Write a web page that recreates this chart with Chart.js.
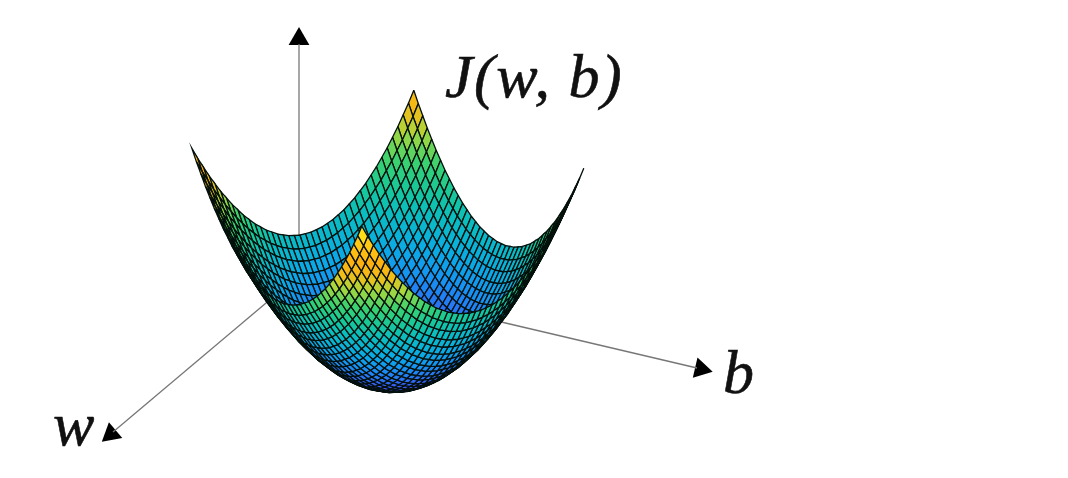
<!DOCTYPE html>
<html>
<head>
<meta charset="utf-8">
<title>J(w, b)</title>
<script src="https://cdn.jsdelivr.net/npm/chart.js@4"></script>
<style>
  html, body { margin: 0; padding: 0; background: #fff; }
  #myChart { display: block; filter: blur(0.5px); }
</style>
</head>
<body>
<canvas id="myChart" width="1068" height="478"></canvas>
<script>
// grid of the surface and the height each axis adds, read from the rims of the bowl
const bGrid = [-1, -0.95, -0.9, -0.85, -0.8, -0.75, -0.7, -0.65, -0.6, -0.55, -0.5, -0.45, -0.4, -0.35, -0.3, -0.25, -0.2, -0.15, -0.1, -0.05, 0, 0.05, 0.1, 0.15, 0.2, 0.25, 0.3, 0.35, 0.4, 0.45, 0.5, 0.55, 0.6, 0.65, 0.7, 0.75, 0.8, 0.85, 0.9, 0.95, 1];
const wGrid = [-1, -0.95, -0.9, -0.85, -0.8, -0.75, -0.7, -0.65, -0.6, -0.55, -0.5, -0.45, -0.4, -0.35, -0.3, -0.25, -0.2, -0.15, -0.1, -0.05, 0, 0.05, 0.1, 0.15, 0.2, 0.25, 0.3, 0.35, 0.4, 0.45, 0.5, 0.55, 0.6, 0.65, 0.7, 0.75, 0.8, 0.85, 0.9, 0.95, 1];
const bHeight = [1, 0.9, 0.81, 0.72, 0.64, 0.56, 0.49, 0.42, 0.36, 0.3, 0.25, 0.2, 0.16, 0.12, 0.09, 0.06, 0.04, 0.02, 0.01, 0, 0, 0, 0.01, 0.02, 0.04, 0.06, 0.09, 0.12, 0.16, 0.2, 0.25, 0.3, 0.36, 0.42, 0.49, 0.56, 0.64, 0.72, 0.81, 0.9, 1];
const wHeight = [1, 0.9, 0.81, 0.72, 0.64, 0.56, 0.49, 0.42, 0.36, 0.3, 0.25, 0.2, 0.16, 0.12, 0.09, 0.06, 0.04, 0.02, 0.01, 0, 0, 0, 0.01, 0.02, 0.04, 0.06, 0.09, 0.12, 0.16, 0.2, 0.25, 0.3, 0.36, 0.42, 0.49, 0.56, 0.64, 0.72, 0.81, 0.9, 1];

// the three drawn axes: line start and end, arrow head centre
const axisStartX = [299, 480, 285];
const axisStartY = [280, 317, 287];
const axisEndX = [299, 697, 113];
const axisEndY = [44, 368, 432];
const arrowX = [299, 701, 111];
const arrowY = [39, 369, 434];

const labelText = ["J(w, b)", "b", "w"];
const labelX = [445, 723, 53];
const labelY = [97, 393, 445];

// view of the 3d surface on the page
const view = { x0: 393, y0: 387, bx: 85, by: 39, wx: -111, wy: 29, jx: -2.6, jy: -114.4 };
const arrowAngle = [0, 103, 230];

// colour stops, [value, r, g, b]
const colourStops = [
  [0, 60, 40, 205], [0.12, 65, 60, 230], [0.3, 50, 100, 245], [0.5, 25, 140, 245],
  [0.7, 10, 170, 230], [0.95, 10, 190, 190], [1.12, 25, 200, 150], [1.3, 60, 210, 110],
  [1.5, 170, 215, 60], [1.65, 240, 190, 25], [1.8, 255, 175, 15], [2.0, 255, 200, 20],
  [2.2, 255, 242, 30],
];

function colourFor(c) {
  for (let i = 1; i < colourStops.length; i++) {
    const a = colourStops[i - 1];
    const s = colourStops[i];
    if (c <= s[0]) {
      const t = Math.max(0, (c - a[0]) / (s[0] - a[0]));
      return "rgb(" + [1, 2, 3].map((k) => Math.round(a[k] + (s[k] - a[k]) * t)).join(",") + ")";
    }
  }
  const last = colourStops[colourStops.length - 1];
  return "rgb(" + last[1] + "," + last[2] + "," + last[3] + ")";
}

function project(i, j) {
  const J = bHeight[i] + wHeight[j];
  return {
    x: view.x0 + view.bx * bGrid[i] + view.wx * wGrid[j] + view.jx * J,
    y: view.y0 + view.by * bGrid[i] + view.wy * wGrid[j] + view.jy * J,
  };
}

// back corner first, so the front wall ends up over the far wall
const cells = [];
for (let i = 0; i < bGrid.length - 1; i++) {
  for (let j = 0; j < wGrid.length - 1; j++) {
    const p = project(i, j);
    const c = (bHeight[i] + bHeight[i + 1] + wHeight[j] + wHeight[j + 1]) / 2
      + 0.1 * (bGrid[i] + wGrid[j] + 0.05 * 2);
    cells.push({
      data: [p, project(i + 1, j), project(i + 1, j + 1), project(i, j + 1), p],
      backgroundColor: colourFor(c),
      borderColor: "#04100c",
      borderWidth: 1.3,
      fill: "shape",
      showLine: true,
      pointRadius: 0,
      tension: 0,
    });
  }
}

const axes = [];
for (let i = 0; i < axisStartX.length; i++) {
  axes.push({
    data: [{ x: axisStartX[i], y: axisStartY[i] }, { x: axisEndX[i], y: axisEndY[i] }],
    borderColor: "#777",
    borderWidth: 1.3,
    showLine: true,
    pointRadius: 0,
  });
  axes.push({
    data: [{ x: arrowX[i], y: arrowY[i] }],
    pointStyle: "triangle",
    pointRadius: 12,
    pointRotation: arrowAngle[i],
    backgroundColor: "#000",
    borderColor: "#000",
    borderWidth: 0,
  });
}

const labelPlugin = {
  id: "labels",
  afterDraw(chart) {
    const ctx = chart.ctx;
    ctx.save();
    ctx.fillStyle = "#111";
    ctx.strokeStyle = "#111";
    ctx.lineWidth = 0.6;
    ctx.font = "italic 62px 'Liberation Serif'";
    ctx.letterSpacing = "1.5px";
    ctx.textBaseline = "alphabetic";
    for (let i = 0; i < labelText.length; i++) {
      const x = chart.scales.x.getPixelForValue(labelX[i]);
      const y = chart.scales.y.getPixelForValue(labelY[i]);
      ctx.fillText(labelText[i], x, y);
      ctx.strokeText(labelText[i], x, y);
    }
    ctx.restore();
  },
};

new Chart(document.getElementById("myChart"), {
  type: "scatter",
  data: { datasets: cells.reverse().concat(axes) },
  options: {
    responsive: false,
    animation: false,
    events: [],
    layout: { padding: 0, autoPadding: false },
    plugins: { legend: { display: false }, tooltip: { enabled: false }, title: { display: false } },
    scales: {
      x: { type: "linear", min: 0, max: 1068, display: false },
      y: { type: "linear", min: 0, max: 478, reverse: true, display: false },
    },
  },
  plugins: [labelPlugin],
});
</script>
</body>
</html>
